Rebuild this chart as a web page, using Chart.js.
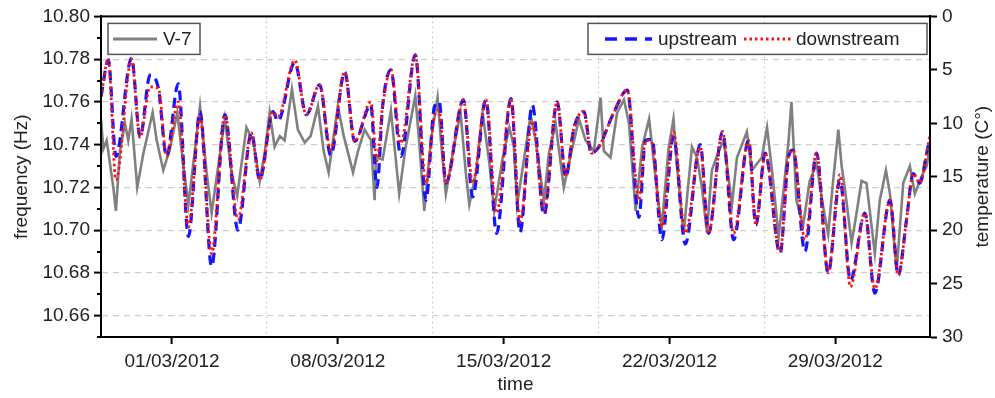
<!DOCTYPE html>
<html>
<head>
<meta charset="utf-8">
<title>V-7 frequency and temperature</title>
<script src="https://cdn.jsdelivr.net/npm/chart.js@4.4.0/dist/chart.umd.min.js"></script>
<style>
    html, body { margin: 0; padding: 0; background: #fff; }
    #wrap { position: relative; width: 995px; height: 398px; }
</style>
</head>
<body>
<div id="wrap"><canvas id="chart"></canvas></div>
<script>
// day 0 = 27/02/2012 00:00
var startDate = Date.UTC(2012, 1, 27);
var labelDays = [3, 10, 17, 24, 31];
var gridDays = [0, 7, 14, 21, 28, 35];
var freqTicks = [10.65, 10.66, 10.67, 10.68, 10.69, 10.70, 10.71, 10.72, 10.73,
    10.74, 10.75, 10.76, 10.77, 10.78, 10.79, 10.80];
var tempTicks = [0, 5, 10, 15, 20, 25, 30];

var v7Days = [0.00, 0.10, 0.24, 0.52, 0.63, 0.80, 1.01, 1.15, 1.29, 1.53, 1.79, 2.18, 2.35, 2.63,
    2.91, 3.22, 3.48, 3.69, 3.97, 4.18, 4.46, 4.67, 4.95, 5.23, 5.51, 5.75, 6.14, 6.42, 6.70,
    6.91, 7.12, 7.33, 7.55, 7.75, 8.06, 8.31, 8.60, 8.85, 9.16, 9.40, 9.61, 10.00, 10.25, 10.64,
    10.85, 11.13, 11.40, 11.55, 11.61, 11.89, 12.24, 12.59, 12.85, 13.27, 13.45, 13.65, 13.93,
    14.21, 14.35, 14.56, 14.90, 15.18, 15.40, 15.55, 15.83, 16.11, 16.40, 16.60, 16.96, 17.24,
    17.43, 17.57, 18.14, 18.35, 18.70, 18.91, 19.19, 19.54, 19.75, 20.18, 20.46, 20.81, 21.09,
    21.23, 21.51, 21.79, 22.08, 22.29, 22.57, 22.85, 23.14, 23.54, 23.68, 23.96, 24.17, 24.31,
    24.60, 24.74, 24.95, 25.16, 25.37, 25.58, 25.79, 26.08, 26.29, 26.64, 26.85, 27.27, 27.48,
    27.90, 28.12, 28.33, 28.61, 28.82, 29.03, 29.15, 29.36, 29.64, 29.92, 30.21, 30.49, 30.70,
    30.91, 31.13, 31.27, 31.41, 31.69, 31.90, 32.11, 32.32, 32.67, 32.88, 33.14, 33.31, 33.59,
    33.87, 34.15, 34.36, 34.64, 34.86, 35.00];
var v7Freq = [10.752, 10.738, 10.742, 10.720, 10.709, 10.737, 10.750, 10.742, 10.752, 10.720,
    10.736, 10.755, 10.742, 10.728, 10.738, 10.755, 10.730, 10.712, 10.738, 10.758, 10.727,
    10.708, 10.730, 10.752, 10.727, 10.716, 10.748, 10.742, 10.723, 10.736, 10.755, 10.739,
    10.744, 10.742, 10.766, 10.747, 10.741, 10.744, 10.758, 10.737, 10.727, 10.758, 10.744,
    10.727, 10.737, 10.747, 10.742, 10.714, 10.734, 10.733, 10.756, 10.717, 10.738, 10.763,
    10.739, 10.709, 10.742, 10.762, 10.742, 10.717, 10.739, 10.755, 10.727, 10.712, 10.727,
    10.755, 10.731, 10.709, 10.734, 10.748, 10.739, 10.712, 10.754, 10.742, 10.714, 10.736,
    10.750, 10.720, 10.731, 10.752, 10.742, 10.737, 10.762, 10.737, 10.734, 10.755, 10.761,
    10.750, 10.709, 10.739, 10.752, 10.712, 10.702, 10.738, 10.752, 10.731, 10.698, 10.715,
    10.739, 10.734, 10.720, 10.699, 10.728, 10.737, 10.742, 10.712, 10.734, 10.746, 10.728,
    10.734, 10.748, 10.728, 10.697, 10.719, 10.742, 10.760, 10.714, 10.702, 10.723, 10.731,
    10.711, 10.698, 10.723, 10.747, 10.730, 10.719, 10.694, 10.708, 10.723, 10.722, 10.689,
    10.714, 10.728, 10.717, 10.681, 10.722, 10.730, 10.717, 10.725, 10.730, 10.739];

var tempDays = [0.00, 0.31, 0.63, 1.29, 1.65, 2.07, 2.42, 2.77, 3.26, 3.69, 4.18, 4.67, 5.23, 5.78,
    6.35, 6.70, 7.26, 7.47, 8.18, 8.67, 9.23, 9.70, 10.29, 10.71, 11.39, 11.65, 11.89, 12.24,
    12.66, 13.27, 13.72, 14.07, 14.28, 14.56, 15.30, 15.69, 16.25, 16.70, 17.31, 17.69, 18.21,
    18.70, 19.26, 19.62, 19.97, 20.39, 20.70, 21.02, 21.65, 22.22, 22.71, 22.99, 23.26, 23.68,
    24.17, 24.67, 25.30, 25.65, 26.24, 26.71, 27.34, 27.65, 28.04, 28.67, 29.03, 29.22, 29.72,
    30.21, 30.70, 31.20, 31.64, 32.25, 32.67, 33.31, 33.66, 34.01, 34.29, 34.57, 34.86, 35.00];
var upTemp = [7.5, 4.1, 13.1, 3.9, 11.3, 5.5, 6.7, 13.1, 6.3, 20.6, 8.9, 23.4, 9.2, 20.0,
    10.9, 15.3, 8.9, 9.8, 4.3, 9.2, 6.4, 13.0, 5.2, 11.7, 8.3, 16.0, 8.4, 5.0,
    13.1, 3.6, 17.2, 8.5, 8.0, 15.6, 7.8, 16.9, 7.8, 20.3, 7.7, 20.2, 8.3,
    18.6, 8.0, 15.0, 10.4, 8.9, 12.8, 12.2, 9.0, 6.9, 18.8, 11.6, 11.5, 20.9,
    11.3, 21.3, 12.0, 20.3, 10.8, 20.9, 11.6, 19.5, 12.8, 22.2, 13.1, 12.5, 22.0,
    12.8, 24.0, 15.3, 24.7, 18.4, 25.9, 17.2, 24.2, 19.0, 14.7, 15.6, 12.8, 11.3];
var downTemp = [7.5, 4.0, 15.3, 4.0, 11.3, 6.6, 6.7, 13.1, 8.0, 19.7, 9.4, 22.2, 9.2, 19.0,
    10.9, 15.3, 8.9, 9.4, 4.1, 9.2, 6.4, 12.5, 5.2, 11.7, 8.0, 13.5, 8.4, 5.0,
    11.9, 3.6, 15.6, 9.4, 8.8, 15.6, 7.8, 15.6, 7.8, 18.4, 7.7, 19.2, 9.8,
    18.1, 8.0, 15.0, 10.4, 8.9, 12.8, 12.2, 9.0, 6.9, 17.2, 11.6, 11.8, 19.7,
    10.8, 20.3, 12.2, 20.3, 10.8, 20.3, 11.6, 19.5, 12.8, 22.0, 13.1, 12.5, 20.9,
    12.8, 24.0, 14.8, 25.3, 18.4, 25.5, 17.2, 24.2, 19.0, 14.7, 15.6, 12.8, 11.0];

var FONT = "'Liberation Sans', Arial, Helvetica, sans-serif";
var TEXT = '#222';
var GRID = '#cfcfcf';
var CLEAR = 'rgba(0,0,0,0)';

function toPoints(xs, ys) {
    return xs.map(function (x, i) { return { x: x, y: ys[i] }; });
}

function dayLabel(d) {
    var dt = new Date(startDate + d * 86400000);
    var dd = ('0' + dt.getUTCDate()).slice(-2);
    var mm = ('0' + (dt.getUTCMonth() + 1)).slice(-2);
    return dd + '/' + mm + '/' + dt.getUTCFullYear();
}

function isEvenHundredth(v) {
    return Math.round(v * 100) % 2 === 0;
}

var xTickDays = gridDays.concat(labelDays).sort(function (a, b) { return a - b; });

// frame, minor ticks, right title and both legend boxes
var decorPlugin = {
    id: 'decor',
    afterDraw: function (chart) {
        var ctx = chart.ctx;
        var a = chart.chartArea;
        var yScale = chart.scales.y;
        ctx.save();

        ctx.strokeStyle = '#000';
        ctx.lineWidth = 2;
        ctx.setLineDash([]);
        ctx.strokeRect(a.left, a.top, a.right - a.left, a.bottom - a.top);

        freqTicks.forEach(function (v) {
            if (isEvenHundredth(v)) return;
            var py = Math.round(yScale.getPixelForValue(v));
            ctx.beginPath();
            ctx.moveTo(a.left, py);
            ctx.lineTo(a.left - 4, py);
            ctx.stroke();
        });

        ctx.fillStyle = TEXT;
        ctx.font = '19px ' + FONT;
        ctx.textAlign = 'center';
        ctx.textBaseline = 'middle';
        ctx.translate(983, (a.top + a.bottom) / 2);
        ctx.rotate(-Math.PI / 2);
        ctx.fillText('temperature (C\u00b0)', 0, 0);
        ctx.setTransform(1, 0, 0, 1, 0, 0);
        ctx.restore();

        ctx.save();
        var by = a.top + 7, bh = 31, my = by + bh / 2;
        ctx.font = '19px ' + FONT;
        ctx.textBaseline = 'middle';
        ctx.textAlign = 'left';

        function box(x, w) {
            ctx.fillStyle = '#fff';
            ctx.fillRect(x, by, w, bh);
            ctx.strokeStyle = '#555';
            ctx.lineWidth = 1.5;
            ctx.setLineDash([]);
            ctx.strokeRect(x, by, w, bh);
        }
        function sample(x1, x2, color, width, dash) {
            ctx.strokeStyle = color;
            ctx.lineWidth = width;
            ctx.setLineDash(dash);
            ctx.beginPath();
            ctx.moveTo(x1, my);
            ctx.lineTo(x2, my);
            ctx.stroke();
            ctx.setLineDash([]);
        }

        var lx = a.left + 7;
        box(lx, 92);
        sample(lx + 5, lx + 49, '#808080', 3, []);
        ctx.fillStyle = TEXT;
        ctx.fillText('V-7', lx + 55, my + 1);

        var rx = a.right - 342;
        box(rx, 339);
        sample(rx + 17, rx + 64, '#1414ff', 3.5, [12, 8]);
        ctx.fillStyle = TEXT;
        ctx.fillText('upstream', rx + 70, my + 1);
        sample(rx + 156, rx + 204, '#ff1010', 3, [2.5, 3]);
        ctx.fillStyle = TEXT;
        ctx.fillText('downstream', rx + 208, my + 1);
        ctx.restore();
    }
};

new Chart(document.getElementById('chart'), {
    type: 'line',
    data: {
        datasets: [{
            label: 'V-7',
            data: toPoints(v7Days, v7Freq),
            yAxisID: 'y',
            borderColor: '#808080',
            borderWidth: 2.6,
            pointRadius: 0,
            tension: 0,
            order: 3
        }, {
            label: 'upstream',
            data: toPoints(tempDays, upTemp),
            yAxisID: 'y2',
            borderColor: '#1414ff',
            borderWidth: 3.2,
            borderDash: [10, 6],
            pointRadius: 0,
            cubicInterpolationMode: 'monotone',
            order: 2
        }, {
            label: 'downstream',
            data: toPoints(tempDays, downTemp),
            yAxisID: 'y2',
            borderColor: '#ff1010',
            borderWidth: 2.8,
            borderDash: [2.5, 3],
            pointRadius: 0,
            cubicInterpolationMode: 'monotone',
            order: 1
        }]
    },
    options: {
        responsive: true,
        maintainAspectRatio: false,
        animation: false,
        layout: { padding: { top: 16, left: 0, right: 0, bottom: 0 } },
        plugins: {
            legend: { display: false },
            tooltip: { enabled: false }
        },
        scales: {
            x: {
                type: 'linear',
                position: 'bottom',
                min: 0,
                max: 35,
                afterBuildTicks: function (scale) {
                    scale.ticks = xTickDays.map(function (v) { return { value: v }; });
                },
                afterFit: function (scale) { scale.height = 61; },
                ticks: {
                    autoSkip: false,
                    maxRotation: 0,
                    padding: 6,
                    color: TEXT,
                    font: { family: FONT, size: 19 },
                    callback: function (v) {
                        return labelDays.indexOf(v) >= 0 ? dayLabel(v) : '';
                    }
                },
                grid: {
                    lineWidth: 1.2,
                    color: function (c) {
                        return gridDays.indexOf(c.tick.value) >= 0 ? GRID : CLEAR;
                    },
                    tickColor: function (c) {
                        return labelDays.indexOf(c.tick.value) >= 0 ? '#000' : CLEAR;
                    },
                    tickLength: 7,
                    tickWidth: 2,
                    tickBorderDash: []
                },
                border: { display: true, color: '#000', width: 2, dash: [2, 3] },
                title: {
                    display: true,
                    text: 'time',
                    color: TEXT,
                    font: { family: FONT, size: 19 },
                    padding: { top: 0, bottom: 2 }
                }
            },
            y: {
                type: 'linear',
                position: 'left',
                min: 10.65,
                max: 10.80,
                afterBuildTicks: function (scale) {
                    scale.ticks = freqTicks.map(function (v) { return { value: v }; });
                },
                afterFit: function (scale) { scale.width = 101; },
                ticks: {
                    autoSkip: false,
                    padding: 4,
                    color: TEXT,
                    font: { family: FONT, size: 19 },
                    callback: function (v) {
                        return isEvenHundredth(v) ? v.toFixed(2) : '';
                    }
                },
                grid: {
                    lineWidth: 1.2,
                    color: function (c) {
                        var v = c.tick.value;
                        return isEvenHundredth(v) && v < 10.795 ? GRID : CLEAR;
                    },
                    tickColor: function (c) {
                        return isEvenHundredth(c.tick.value) ? '#000' : CLEAR;
                    },
                    tickLength: 7,
                    tickWidth: 2,
                    tickBorderDash: []
                },
                border: { display: true, color: '#000', width: 2, dash: [6, 5] },
                title: {
                    display: true,
                    text: 'frequency (Hz)',
                    color: TEXT,
                    font: { family: FONT, size: 19 },
                    padding: { top: 10, bottom: 0 }
                }
            },
            y2: {
                type: 'linear',
                position: 'right',
                min: 0,
                max: 30,
                reverse: true,
                afterBuildTicks: function (scale) {
                    scale.ticks = tempTicks.map(function (v) { return { value: v }; });
                },
                afterFit: function (scale) { scale.width = 65; },
                ticks: {
                    autoSkip: false,
                    padding: 5,
                    color: TEXT,
                    font: { family: FONT, size: 19 }
                },
                grid: {
                    drawOnChartArea: false,
                    color: '#000',
                    tickColor: '#000',
                    tickLength: 7,
                    tickWidth: 2,
                    tickBorderDash: []
                },
                border: { display: true, color: '#000', width: 2 }
            }
        }
    },
    plugins: [decorPlugin]
});
</script>
</body>
</html>
